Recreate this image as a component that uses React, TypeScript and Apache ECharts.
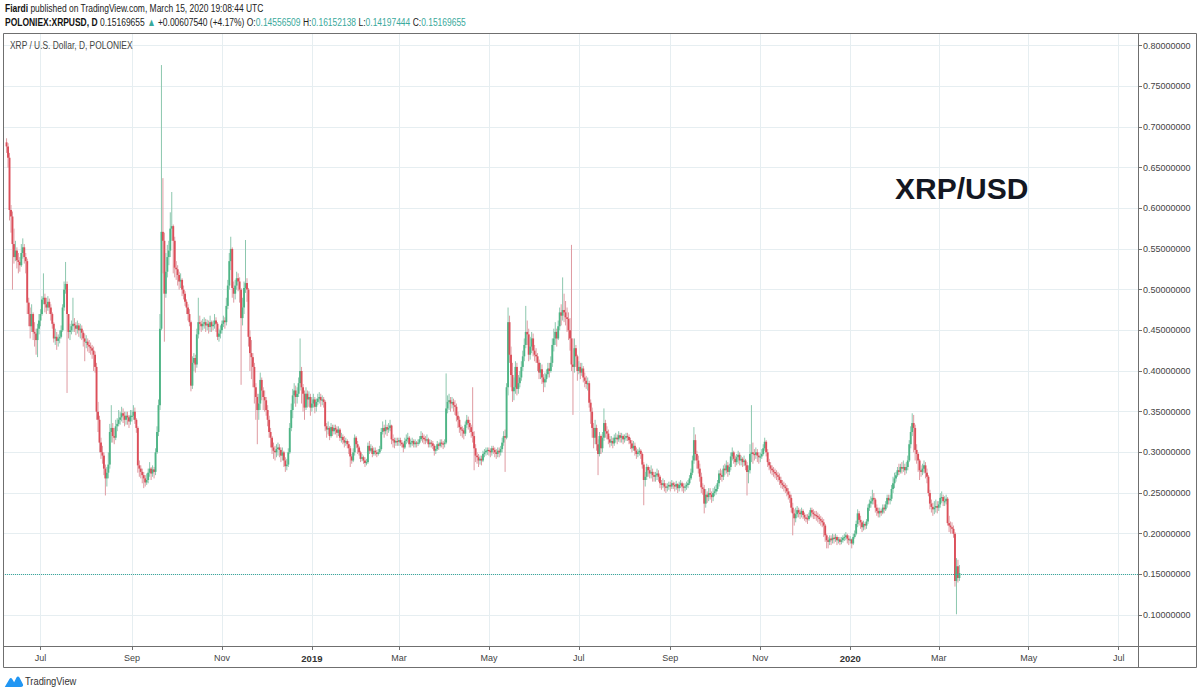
import React, { useEffect, useRef } from "react";
import * as echarts from "echarts";

// ---------------- DATA (prices in thousandths of a USD) ----------------
// Daily candles, first candle = 2018-06-08, consecutive days to 2020-03-15
const FIRST_DAY = [2018, 5, 8];
const FIRST_OPEN = 681;

const closes: number[] = [
  // 2018 Jun 8-30
  676,662,598,590,556,540,548,536,534,530,545,552,540,535,484,470,455,470,448,446,438,452,462,
  // Jul
  470,488,490,482,478,485,478,470,458,440,442,437,440,442,450,478,500,507,470,448,450,455,458,456,452,456,450,452,447,440,436,
  // Aug
  436,432,430,428,425,420,405,350,340,312,300,296,280,268,275,285,325,330,320,318,332,335,340,343,348,345,340,345,343,338,345,
  // Sep
  345,350,340,330,284,280,276,272,268,263,266,275,280,274,279,276,300,325,358,452,571,560,495,522,540,548,575,578,560,527,
  // Oct
  525,518,510,512,500,495,485,478,470,460,382,410,416,408,445,460,458,455,458,460,456,458,454,460,455,457,462,458,442,446,450,
  // Nov
  458,462,460,480,505,535,550,502,495,505,514,510,500,465,478,502,508,500,442,422,417,405,380,368,352,360,389,376,368,364,
  // Dec
  352,340,325,318,306,302,300,304,306,303,296,300,290,283,285,300,330,352,370,376,368,372,385,400,380,372,355,372,365,368,355,
  // 2019 Jan
  360,365,356,362,366,368,364,365,362,332,328,330,320,331,326,330,328,324,328,318,319,315,312,314,310,305,295,290,300,318,310,
  // Feb
  306,300,292,294,290,287,288,308,302,305,298,302,300,298,300,304,325,330,326,331,328,330,333,316,315,312,314,313,
  // Mar
  315,312,310,306,314,316,318,310,312,314,310,312,311,312,316,320,318,316,315,316,310,312,311,308,302,304,310,308,312,311,310,
  // Apr
  312,354,362,364,360,362,358,356,345,340,331,328,327,323,334,340,336,331,325,320,305,296,294,290,292,290,298,300,302,303,
  // May
  302,300,305,303,300,298,302,300,304,312,320,318,380,460,420,395,375,380,405,378,385,392,405,418,432,448,445,420,430,440,425,
  // Jun
  420,418,410,398,402,392,386,390,396,403,400,410,432,440,448,440,455,472,468,475,472,466,464,450,440,408,405,428,418,400,
  // Jul
  405,398,403,392,388,384,385,361,350,330,318,330,310,298,320,305,318,336,326,323,316,312,314,311,318,318,316,321,318,320,316,
  // Aug
  318,320,319,315,311,305,308,302,298,300,302,298,285,266,270,282,278,274,276,272,270,272,274,270,262,260,262,258,257,258,260,
  // Sep
  258,262,260,258,261,256,260,262,258,257,258,260,262,268,275,290,315,298,290,280,270,257,255,237,248,245,250,248,245,250,
  // Oct
  252,255,262,274,272,270,280,278,284,276,282,295,300,292,288,294,297,290,292,288,290,284,276,278,298,300,298,297,300,296,294,
  // Nov
  295,298,305,313,300,288,284,280,278,276,274,272,270,266,262,260,258,256,252,248,244,232,225,219,224,229,226,224,228,223,
  // Dec
  220,219,218,222,229,226,224,223,222,220,218,216,214,210,198,192,190,194,192,195,194,196,192,193,190,192,195,196,198,194,192,
  // 2020 Jan
  193,188,196,200,212,225,217,214,208,212,210,215,232,237,240,244,242,232,228,225,228,226,232,230,236,244,241,243,255,262,268,
  // Feb
  272,278,276,282,280,282,278,282,290,310,325,336,330,303,298,290,278,276,280,284,275,270,250,237,233,230,232,234,232,
  // Mar 1-15
  236,244,245,240,240,243,213,210,208,206,200,142,160,145.56509,151.69655,
];

const highs: number[] = [
  686,680,668,604,596,575,560,552,545,540,556,563,556,545,538,490,478,482,472,460,452,458,470,
  476,492,520,495,490,492,489,482,472,460,452,448,445,450,456,482,510,534,510,470,458,462,490,465,460,462,459,458,456,450,446,
  444,440,438,435,432,430,424,410,362,345,318,308,300,285,282,300,335,358,336,330,340,342,352,350,356,354,350,350,350,346,352,
  352,358,355,342,332,290,284,280,276,272,274,280,288,282,284,282,305,332,365,470,776,637,570,545,555,560,595,620,580,565,
  535,530,522,520,514,505,498,488,482,476,462,418,422,420,452,490,468,462,464,466,464,463,462,468,462,462,470,466,460,452,456,
  462,468,466,490,512,545,565,552,510,512,522,520,515,502,490,510,561,514,502,450,438,422,410,385,372,372,398,392,380,376,
  368,358,345,330,320,312,308,310,312,310,306,306,302,294,292,305,336,360,378,385,382,380,392,440,405,384,376,380,376,375,372,
  368,372,368,366,372,374,372,370,368,364,336,338,332,336,334,334,334,332,332,330,324,322,320,318,316,314,308,298,305,322,320,
  314,308,302,298,296,294,292,312,314,310,308,306,306,303,304,308,330,338,334,340,334,336,340,334,322,318,318,318,
  318,318,315,312,318,322,324,320,316,318,316,316,314,316,320,326,324,322,320,322,318,316,315,314,310,308,314,312,316,316,314,
  316,397,370,372,368,368,366,364,360,350,344,334,332,330,338,346,344,340,334,380,326,310,300,298,296,296,302,304,306,306,
  306,305,308,308,306,304,306,306,308,318,326,328,385,478,468,430,410,392,412,410,395,400,412,425,440,480,462,452,442,448,446,
  432,428,422,414,410,408,396,398,402,410,410,418,440,452,460,452,462,478,482,515,495,486,478,472,465,555,440,440,432,420,
  412,410,410,406,398,394,392,388,365,355,336,340,334,316,325,322,325,354,340,332,328,320,320,318,322,324,322,326,324,324,322,
  322,324,324,322,318,315,314,312,306,304,306,304,300,288,276,286,284,282,284,280,276,276,280,278,272,266,268,266,262,262,264,
  264,266,264,263,265,262,264,266,264,262,262,264,266,272,280,296,331,322,302,296,286,275,262,260,255,252,256,256,252,256,
  258,260,266,278,280,278,284,286,290,288,286,300,306,302,296,298,302,300,296,294,296,292,288,284,310,358,312,304,306,304,300,
  300,304,310,318,315,304,292,288,284,282,280,278,276,274,270,266,264,262,260,256,252,248,238,230,232,234,232,230,232,230,
  226,224,224,226,232,232,230,228,228,226,224,222,220,218,212,200,196,198,198,200,199,200,198,196,196,196,198,200,202,200,198,
  197,194,200,204,216,230,228,222,216,216,214,218,236,242,246,254,250,244,236,232,232,230,236,236,240,248,248,248,260,270,275,
  276,282,286,286,288,290,286,288,296,315,332,348,346,334,310,300,292,284,286,290,288,280,272,254,242,238,240,242,240,
  240,250,252,248,246,248,245,222,215,214,210,202,170,168,161.52138,
];

const lows: number[] = [
  668,650,585,570,500,532,535,526,520,522,528,538,532,520,470,455,440,448,438,430,420,417,445,
  455,468,482,472,470,474,470,462,452,435,432,426,430,434,440,448,474,495,373,440,438,445,448,448,444,446,442,440,438,430,412,
  428,424,422,420,415,400,398,340,325,300,292,286,272,247,258,268,280,312,312,310,315,326,332,334,338,336,332,334,334,330,334,
  338,340,335,324,275,270,268,262,256,258,260,262,270,266,270,268,272,298,320,352,450,520,436,490,515,530,540,560,520,515,
  512,505,500,502,492,488,480,470,462,455,375,378,400,398,404,440,450,448,450,452,448,450,446,448,448,450,452,448,438,436,440,
  446,454,452,456,476,500,524,490,484,488,500,498,484,383,456,470,496,485,430,400,390,380,360,340,310,340,352,364,352,350,
  345,332,318,306,298,292,290,294,296,294,288,290,282,276,278,282,298,326,342,360,356,360,368,376,360,350,340,352,355,356,345,
  350,355,348,350,358,360,356,358,355,326,318,322,315,318,320,322,322,318,320,314,312,310,306,308,305,298,282,286,288,296,305,
  298,296,288,289,286,282,284,286,298,300,294,296,296,294,296,298,302,322,318,322,320,324,326,310,306,305,308,308,
  308,308,306,300,304,310,312,306,306,308,306,306,306,308,310,314,312,310,310,312,306,306,306,304,296,298,302,303,306,306,304,
  306,310,348,352,350,354,350,346,338,330,324,320,318,316,320,330,328,324,318,312,278,288,286,282,285,284,288,294,296,297,
  296,294,296,298,294,292,294,294,296,300,308,276,316,370,410,380,362,364,372,370,372,380,388,400,412,428,432,412,414,422,418,
  412,410,400,390,390,384,374,380,386,392,392,398,405,424,432,430,438,450,456,462,460,456,448,438,425,400,346,398,405,388,
  396,390,394,386,380,378,376,355,335,318,305,310,302,272,295,298,300,314,318,316,310,306,308,305,308,312,310,313,312,312,310,
  312,314,314,310,304,300,302,296,292,294,296,292,280,235,258,266,270,268,268,264,264,264,266,264,256,254,256,252,250,252,254,
  252,255,255,252,254,250,252,256,252,250,252,254,256,260,266,272,286,290,280,274,264,250,248,225,232,238,240,242,238,240,
  246,248,252,258,266,264,266,272,274,270,272,278,290,286,282,284,286,284,284,282,283,278,247,262,274,288,286,290,292,288,286,
  288,292,296,302,295,282,278,274,272,270,268,266,264,260,256,255,252,250,246,242,238,226,198,210,214,220,220,218,220,218,
  216,214,212,216,220,220,218,218,216,214,212,210,208,196,190,182,182,186,186,188,188,190,186,188,186,187,189,191,192,188,186,
  188,182,186,194,198,208,210,206,202,204,205,206,212,228,232,236,236,226,222,220,220,222,224,225,228,232,236,236,240,250,256,
  264,270,272,274,274,276,272,274,278,288,305,320,300,290,286,276,266,270,272,274,268,262,246,230,226,222,224,226,225,
  228,232,238,234,234,236,210,202,200,200,195,135,101,140,141.97444,
];

const LAST_PRICE = 0.15169655;
const MONTH_NAMES = ["Jan", "Feb", "Mar", "Apr", "May", "Jun", "Jul", "Aug", "Sep", "Oct", "Nov", "Dec"];

const HEADER_1 = "{b|Fiardi} published on TradingView.com, March 15, 2020 19:08:44 UTC";
const HEADER_2 =
  "{b|POLONIEX:XRPUSD, D} 0.15169655 {g|▲} +0.00607540 (+4.17%) O:{g|0.14556509} H:{g|0.16152138} L:{g|0.14197444} C:{g|0.15169655}";
const PANE_TITLE = "XRP / U.S. Dollar, D, POLONIEX";
const BIG_LABEL = "XRP/USD";
const BRAND = "TradingView";

// ---------------- STYLE ----------------
const UP = "#4fb586";
const DOWN = "#dc4f5a";
const WICK_UP = "#8cc7ae";
const WICK_DOWN = "#df9aa1";
const GRID_COLOR = "#e6eef1";
const LINE_COLOR = "#6f6f6f";
const FONT = "'Liberation Sans', Arial, sans-serif";
const DAY = 86400000;

const X_MIN = Date.UTC(2018, 5, 5, 14);
const X_MAX = Date.UTC(2020, 6, 14, 2);
const Y_MIN = 0.062;
const Y_MAX = 0.8154;

const LOGO_PATH =
  "M1 15 L7 5 C8 3.5 9.5 3.5 10.5 5 L13 9 L16 3 C17 1.3 18.8 1.3 19.8 3 L24 11 C25.5 13.5 24 15 21.5 15 Z";
echarts.graphic.registerShape("tvlogo", echarts.graphic.extendPath(LOGO_PATH, {}) as any);

function buildCandles() {
  const t0 = Date.UTC(FIRST_DAY[0], FIRST_DAY[1], FIRST_DAY[2]);
  return closes.map((c, i) => {
    const o = i === 0 ? FIRST_OPEN : closes[i - 1];
    const hi = Math.max(highs[i], o, c);
    const lo = Math.min(lows[i], o, c);
    return [t0 + i * DAY, o / 1000, c / 1000, lo / 1000, hi / 1000];
  });
}

function buildOption(): any {
  const data = buildCandles();
  return {
    animation: false,
    backgroundColor: "#ffffff",
    grid: { left: 3, right: 62, top: 33, bottom: 50, containLabel: false },
    xAxis: {
      type: "time",
      min: X_MIN,
      max: X_MAX,
      splitNumber: 10,
      axisLine: { show: false },
      axisTick: { show: true, length: 4, lineStyle: { color: LINE_COLOR } },
      axisLabel: {
        showMinLabel: false,
        showMaxLabel: false,
        margin: 7,
        color: "#444",
        fontSize: 9,
        fontFamily: FONT,
        hideOverlap: false,
        formatter: (val: number) => {
          const d = new Date(val);
          const m = d.getMonth();
          return m === 0 ? `{yr|${d.getFullYear()}}` : MONTH_NAMES[m];
        },
        rich: { yr: { fontWeight: "bold", fontSize: 9.5, fontFamily: FONT, color: "#333" } },
      },
      splitLine: { show: true, lineStyle: { color: GRID_COLOR, width: 1 } },
    },
    yAxis: {
      type: "value",
      position: "right",
      min: Y_MIN,
      max: Y_MAX,
      splitNumber: 15,
      minInterval: 0.05,
      maxInterval: 0.05,
      scale: true,
      axisLine: { show: false },
      axisTick: { show: true, length: 4, lineStyle: { color: LINE_COLOR } },
      axisLabel: {
        showMinLabel: false,
        showMaxLabel: false,
        margin: 5,
        color: "#444",
        fontSize: 9,
        fontFamily: FONT,
        formatter: (v: number) => v.toFixed(8),
      },
      splitLine: { show: true, lineStyle: { color: GRID_COLOR, width: 1 } },
    },
    series: [
      {
        type: "custom",
        name: "XRPUSD",
        clip: true,
        data,
        encode: { x: 0, y: [1, 2, 3, 4] },
        renderItem: (params: any, api: any) => {
          const t = api.value(0);
          const o = api.value(1);
          const c = api.value(2);
          const l = api.value(3);
          const h = api.value(4);
          const pO = api.coord([t, o]);
          const pC = api.coord([t, c]);
          const pL = api.coord([t, l]);
          const pH = api.coord([t, h]);
          const w = api.size([DAY, 0])[0] * 1.3;
          const up = c >= o;
          const top = Math.min(pO[1], pC[1]);
          const hgt = Math.max(Math.abs(pO[1] - pC[1]), 1.2);
          return {
            type: "group",
            children: [
              {
                type: "line",
                shape: { x1: pH[0], y1: pH[1], x2: pL[0], y2: pL[1] },
                style: { stroke: up ? WICK_UP : WICK_DOWN, lineWidth: 1 },
              },
              {
                type: "rect",
                shape: { x: pO[0] - w / 2, y: top, width: w, height: hgt },
                style: { fill: up ? UP : DOWN },
              },
            ],
          };
        },
        markLine: {
          silent: true,
          symbol: "none",
          label: { show: false },
          lineStyle: { type: "dotted", color: "#3aa99c", width: 1 },
          data: [{ yAxis: LAST_PRICE }],
        },
      },
    ],
    graphic: [
      {
        type: "text",
        x: 5,
        y: 3,
        scaleX: 0.77,
        style: {
          text: HEADER_1,
          fill: "#222",
          fontSize: 11,
          fontFamily: FONT,
          rich: { b: { fontWeight: "bold", fontSize: 11, fontFamily: FONT, fill: "#111" } },
        },
      },
      {
        type: "text",
        x: 5,
        y: 17,
        scaleX: 0.77,
        style: {
          text: HEADER_2,
          fill: "#222",
          fontSize: 11,
          fontFamily: FONT,
          rich: {
            b: { fontWeight: "bold", fontSize: 11, fontFamily: FONT, fill: "#111" },
            g: { fontSize: 11, fontFamily: FONT, fill: "#3aa99c" },
          },
        },
      },
      {
        type: "rect",
        shape: { x: 3.5, y: 33.5, width: 1193, height: 634 },
        style: { fill: "none", stroke: LINE_COLOR, lineWidth: 1 },
        z: 10,
      },
      {
        type: "line",
        shape: { x1: 1138.5, y1: 33.5, x2: 1138.5, y2: 667.5 },
        style: { stroke: LINE_COLOR, lineWidth: 1 },
        z: 10,
      },
      {
        type: "line",
        shape: { x1: 3.5, y1: 646.5, x2: 1196.5, y2: 646.5 },
        style: { stroke: LINE_COLOR, lineWidth: 1 },
        z: 10,
      },
      {
        type: "text",
        x: 10,
        y: 40,
        scaleX: 0.8,
        style: { text: PANE_TITLE, fill: "#444", fontSize: 10.5, fontFamily: FONT },
        z: 10,
      },
      {
        type: "text",
        x: 895,
        y: 173,
        style: {
          text: BIG_LABEL,
          fill: "#131722",
          fontSize: 30,
          fontWeight: "bold",
          fontFamily: FONT,
        },
        z: 10,
      },
      {
        type: "tvlogo",
        x: 4,
        y: 675,
        scaleX: 0.78,
        scaleY: 0.8,
        style: { fill: "#2196f3" },
      },
      {
        type: "text",
        x: 25,
        y: 676,
        scaleX: 0.85,
        style: { text: BRAND, fill: "#333", fontSize: 11, fontFamily: FONT },
      },
    ],
  };
}

export default function App() {
  const ref = useRef<HTMLDivElement>(null);
  useEffect(() => {
    const el = ref.current;
    if (!el) return;
    const chart = echarts.init(el, undefined, { renderer: "svg" });
    chart.setOption(buildOption());
    return () => {
      chart.dispose();
    };
  }, []);
  return (
    <div
      ref={ref}
      style={{ position: "absolute", left: 0, top: 0, width: 1200, height: 696, background: "#fff" }}
    />
  );
}
